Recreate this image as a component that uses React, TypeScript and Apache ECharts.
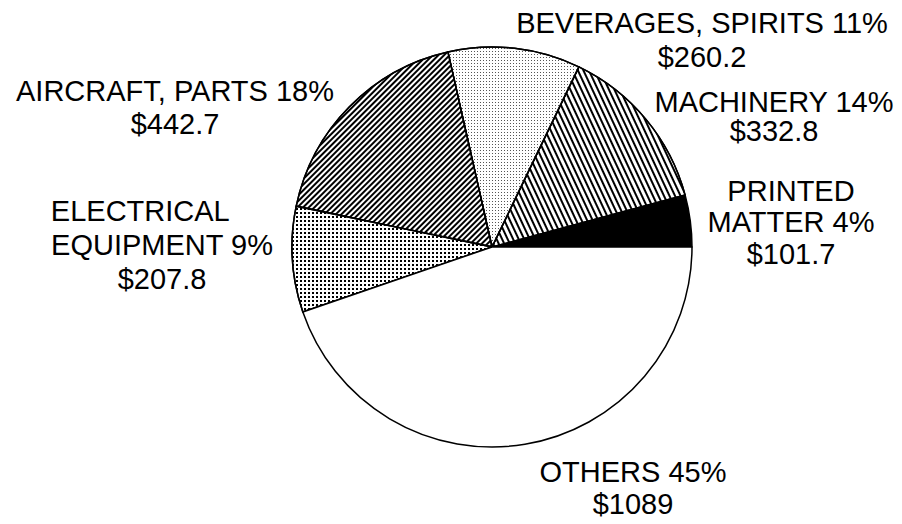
import React, { useEffect, useRef } from "react";
import * as echarts from "echarts";

// ---- data ----
const categories = [
  "PRINTED\nMATTER",
  "MACHINERY",
  "BEVERAGES, SPIRITS",
  "AIRCRAFT, PARTS",
  "ELECTRICAL\nEQUIPMENT",
  "OTHERS",
];
const values = [101.7, 332.8, 260.2, 442.7, 207.8, 1089];
const percents = [4, 14, 11, 18, 9, 45];

// ---- layout / style (not data) ----
const labelCenters: number[][] = [
  [791, 222],
  [774, 116],
  [702, 40],
  [175, 107],
  [162, 245],
  [633, 488],
];
const labelLineHeights = [31.5, 29, 34, 33, 34, 32];
const firstLineAlign = ["center", "center", "center", "center", "left", "center"];

const FONT = "'Liberation Sans', Arial, Helvetica, sans-serif";
const FONT_SIZE = 29;

const fills: any[] = [
  { color: "#000000" },
  {
    color: "#ffffff",
    decal: {
      symbol: "rect",
      symbolSize: 1,
      color: "#000000",
      backgroundColor: "#ffffff",
      dashArrayX: [1, 0],
      dashArrayY: [1.5, 2.1],
      rotation: (65 * Math.PI) / 180,
    },
  },
  {
    color: "#ffffff",
    decal: {
      symbol: "rect",
      symbolSize: 1,
      color: "#555555",
      backgroundColor: "#ffffff",
      dashArrayX: [1, 2],
      dashArrayY: [1, 2],
      rotation: 0,
    },
  },
  {
    color: "#ffffff",
    decal: {
      symbol: "rect",
      symbolSize: 1,
      color: "#000000",
      backgroundColor: "#ffffff",
      dashArrayX: [1, 0],
      dashArrayY: [1.1, 1.1],
      rotation: -Math.PI / 4,
    },
  },
  {
    color: "#ffffff",
    decal: {
      symbol: "rect",
      symbolSize: 1,
      color: "#000000",
      backgroundColor: "#ffffff",
      dashArrayX: [1.8, 1.6],
      dashArrayY: [1.8, 1.6],
      rotation: 0,
    },
  },
  { color: "#ffffff" },
];

function tokenStyle(align: string, lh: number) {
  return {
    align,
    fontSize: FONT_SIZE,
    fontFamily: FONT,
    color: "#000",
    lineHeight: lh,
  };
}

export default function App() {
  const ref = useRef<HTMLDivElement>(null);

  useEffect(() => {
    if (!ref.current) return;
    const chart = echarts.init(ref.current, undefined, { renderer: "svg" });

    const data = categories.map((name, i) => {
      const lh = labelLineHeights[i];
      return {
        name,
        value: values[i],
        itemStyle: { ...fills[i], borderColor: "#000", borderWidth: 1.5 },
        label: {
          lineHeight: lh,
          rich: {
            l: tokenStyle("left", lh),
            c: tokenStyle("center", lh),
          },
        },
      };
    });

    chart.setOption({
      animation: false,
      backgroundColor: "#ffffff",
      series: [
        {
          type: "pie",
          center: [492, 247],
          radius: [0, 200],
          startAngle: 0,
          clockwise: false,
          avoidLabelOverlap: false,
          data,
          label: {
            show: true,
            position: "outside",
            fontSize: FONT_SIZE,
            fontFamily: FONT,
            color: "#000",
            align: "center",
            formatter: (p: any) => {
              const i = p.dataIndex;
              const lines = String(p.name).split("\n");
              lines[lines.length - 1] = lines[lines.length - 1] + " " + percents[i] + "%";
              lines.push("$" + p.value);
              return lines
                .map((t, k) => {
                  const st = k === 0 && firstLineAlign[i] === "left" ? "l" : "c";
                  return "{" + st + "|" + t + "}";
                })
                .join("\n");
            },
          },
          labelLine: { show: false },
          labelLayout: (params: any) => {
            const c = labelCenters[params.dataIndex];
            return { x: c[0], y: c[1], align: "center", verticalAlign: "middle" };
          },
          emphasis: { disabled: true },
        },
      ],
    });

    return () => chart.dispose();
  }, []);

  return (
    <div
      ref={ref}
      style={{ position: "fixed", left: 0, top: 0, width: 902, height: 524, background: "#fff" }}
    />
  );
}
